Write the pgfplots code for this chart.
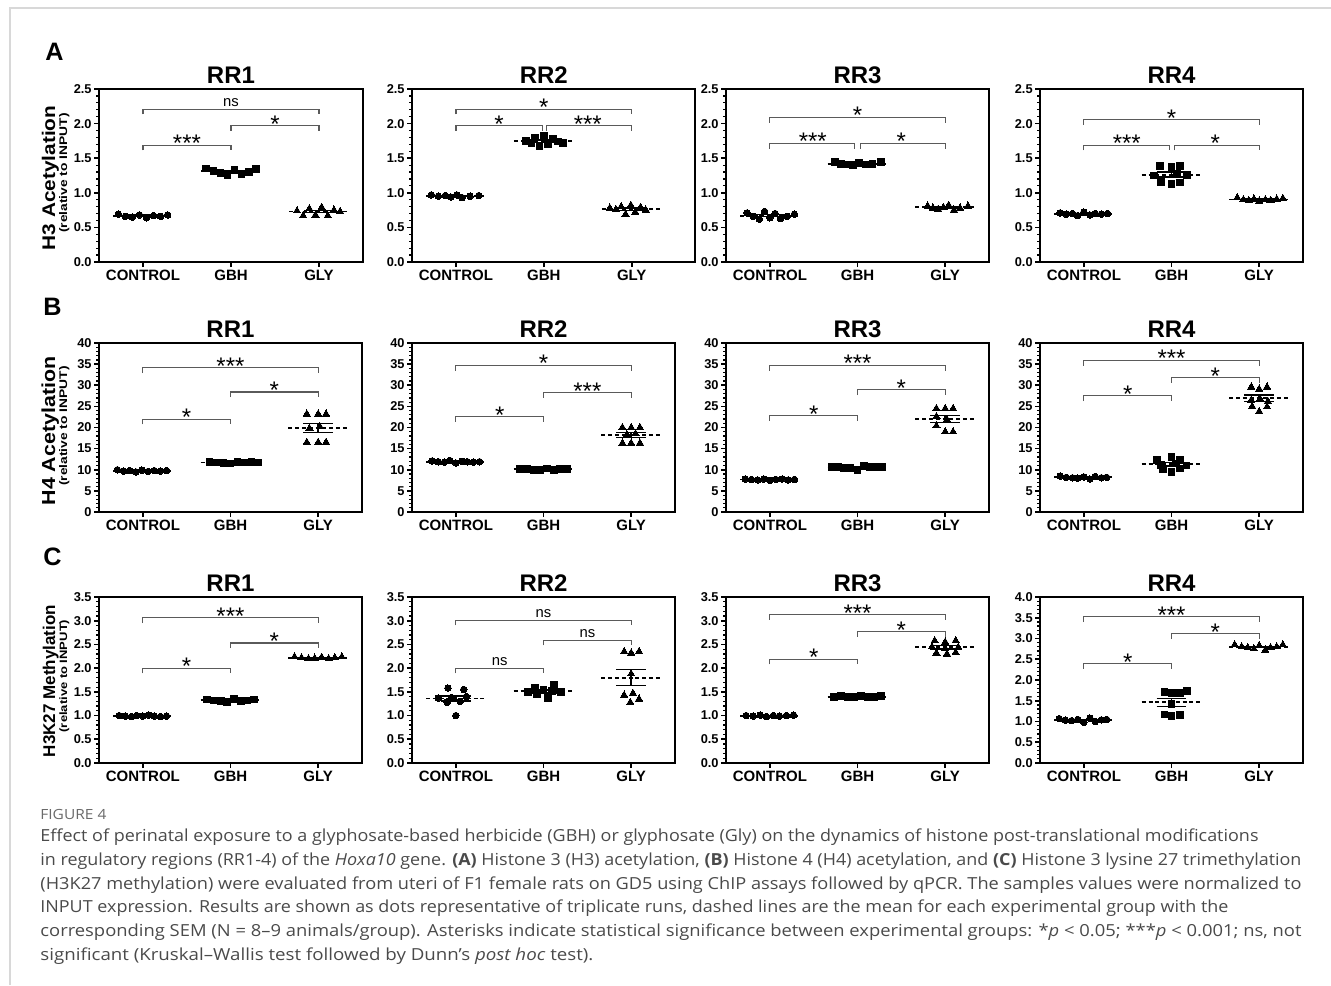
\documentclass[border=0pt]{standalone}
\usepackage{fontspec}
\setmainfont{Liberation Sans}
\newfontfamily\capfont{Open Sans}
\usepackage{graphicx}
\usepackage{pgfplots}
\pgfplotsset{compat=1.18}
\definecolor{brkc}{HTML}{5A5A5A}
\definecolor{capc}{HTML}{4A4A4A}
\definecolor{figc}{HTML}{6A6A6A}
\definecolor{bord}{HTML}{D8D8D8}

\pgfplotsset{
 panel/.style={scale only axis, clip=false, width=131.5pt,
   axis line style={line width=1pt},
   xmin=-0.5, xmax=2.5, ymin=0,
   xtick={0,1,2}, xticklabels={CONTROL,GBH,GLY},
   tick pos=left, tick align=outside,
   major tick length=2.5pt, minor tick length=1.4pt, minor y tick num=4,
   every tick/.style={black, line width=0.8pt},
   every minor tick/.append style={line width=0.6pt},
   xticklabel style={font=\bfseries\fontsize{7.5}{8}\selectfont, inner sep=1.5pt},
   yticklabel style={font=\bfseries\fontsize{6.4}{7}\selectfont, inner sep=1pt},
   /pgf/number format/assume math mode=true,
 },
 dec/.style={yticklabel style={/pgf/number format/fixed, /pgf/number format/fixed zerofill, /pgf/number format/precision=1}},
 rowA/.style={panel, dec, height=86.5pt, ymax=2.5, ytick={0,0.5,1,1.5,2,2.5}},
 rowB/.style={panel, height=84.5pt, ymax=40, ytick={0,5,10,15,20,25,30,35,40}},
 rowC/.style={panel, dec, height=83pt, ymax=3.5, ytick={0,0.5,1,1.5,2,2.5,3,3.5}},
 ctl/.style={only marks, mark=*, mark size=1.65pt, mark options={fill=black, draw=black, line width=0pt}},
 gbh/.style={only marks, mark=square*, mark size=1.7pt, mark options={fill=black, draw=black, line width=0pt}},
 gly/.style={only marks, mark=triangle*, mark size=2.1pt, mark options={fill=black, draw=black, line width=0pt}},
}

% mean (dashed) and SEM bars: centre, mean, sem
\newcommand\ms[3]{%
 \pgfmathsetmacro\xl{#1-0.34}\pgfmathsetmacro\xr{#1+0.34}%
 \pgfmathsetmacro\el{#1-0.17}\pgfmathsetmacro\er{#1+0.17}%
 \pgfmathsetmacro\yu{#2+#3}\pgfmathsetmacro\yd{#2-#3}%
 \edef\tmp{%
 \noexpand\addplot[black, line width=0.95pt, dash pattern=on 2pt off 1.4pt] coordinates {(\xl,#2) (\xr,#2)};
 \noexpand\addplot[black, line width=0.7pt] coordinates {(\el,\yu) (\er,\yu)};
 \noexpand\addplot[black, line width=0.7pt] coordinates {(\el,\yd) (\er,\yd)};
 \noexpand\addplot[black, line width=0.7pt] coordinates {(#1,\yd) (#1,\yu)};
 }\tmp}
% brackets: x1, x2, y, xmid, label
\newcommand\bs[5]{%
 \draw[brkc, line width=0.55pt] ([yshift=-2.6pt]axis cs:#1,#3) -- (axis cs:#1,#3) -- (axis cs:#2,#3) -- ([yshift=-2.6pt]axis cs:#2,#3);
 \node[anchor=base, inner sep=0pt, yshift=-3.3pt, font=\fontsize{12}{12}\selectfont] at (axis cs:#4,#3) {#5};}
\newcommand\bn[5]{%
 \draw[brkc, line width=0.55pt] ([yshift=-2.6pt]axis cs:#1,#3) -- (axis cs:#1,#3) -- (axis cs:#2,#3) -- ([yshift=-2.6pt]axis cs:#2,#3);
 \node[anchor=base, inner sep=0pt, yshift=1.5pt, font=\fontsize{7.4}{8}\selectfont] at (axis cs:#4,#3) {#5};}
\newcommand\ttl[2]{\node[anchor=base, inner sep=0pt, yshift=3pt, font=\bfseries\fontsize{12}{12}\selectfont] at (axis cs:1,#1) {#2};}

\begin{document}
\begin{tikzpicture}
\path[use as bounding box] (0,0) rectangle (665.5pt,-492.5pt);
\draw[bord, line width=0.7pt] (5pt,-492.5pt) -- (5pt,-4pt) -- (665.5pt,-4pt);

% panel letters and y labels
\node[anchor=base west, inner sep=0pt, font=\bfseries\fontsize{12.6}{13}\selectfont] at (22.5pt,-30pt) {A};
\node[anchor=base west, inner sep=0pt, font=\bfseries\fontsize{12.6}{13}\selectfont] at (21.5pt,-157.5pt) {B};
\node[anchor=base west, inner sep=0pt, font=\bfseries\fontsize{12.6}{13}\selectfont] at (21.5pt,-282.5pt) {C};
\node[rotate=90, anchor=base, inner sep=0pt] at (27.6pt,-89pt) {\scalebox{1}[0.88]{\bfseries\fontsize{10.4}{11}\selectfont H3 Acetylation}};
\node[rotate=90, anchor=base, inner sep=0pt] at (33.6pt,-86.5pt) {\scalebox{1}[0.8]{\bfseries\fontsize{6.9}{7}\selectfont (relative to INPUT)}};
\node[rotate=90, anchor=base, inner sep=0pt] at (27.6pt,-215.5pt) {\scalebox{1}[0.88]{\bfseries\fontsize{10.7}{11}\selectfont H4 Acetylation}};
\node[rotate=90, anchor=base, inner sep=0pt] at (33.6pt,-213pt) {\scalebox{1}[0.8]{\bfseries\fontsize{6.9}{7}\selectfont (relative to INPUT)}};
\node[rotate=90, anchor=base, inner sep=0pt] at (27.6pt,-340.5pt) {\scalebox{1}[1]{\bfseries\fontsize{8.5}{9}\selectfont H3K27 Methylation}};
\node[rotate=90, anchor=base, inner sep=0pt] at (33.6pt,-338pt) {\scalebox{1}[0.82]{\bfseries\fontsize{6.5}{7}\selectfont (relative to INPUT)}};

% ---------------- Row A ----------------
\begin{axis}[rowA, at={(49.5pt,-44.5pt)}, anchor=north west, width=132pt]
\addplot[ctl] coordinates {(-0.28,0.69)(-0.20,0.66)(-0.12,0.65)(-0.04,0.68)(0.04,0.64)(0.12,0.67)(0.20,0.66)(0.28,0.68)};
\addplot[gbh] coordinates {(0.72,1.35)(0.80,1.31)(0.88,1.29)(0.96,1.26)(1.04,1.33)(1.12,1.27)(1.20,1.30)(1.28,1.34)};
\addplot[gly] coordinates {(1.75,0.74)(1.82,0.67)(1.89,0.77)(1.96,0.68)(2.03,0.79)(2.10,0.67)(2.17,0.75)(2.24,0.73)};
\ms{0}{0.67}{0.01}\ms{1}{1.31}{0.012}\ms{2}{0.73}{0.015}
\bn{0}{2}{2.21}{1}{ns}
\bs{1}{2}{1.97}{1.5}{*}
\bs{0}{1}{1.69}{0.5}{***}
\ttl{2.5}{RR1}
\end{axis}

\begin{axis}[rowA, at={(206pt,-44.5pt)}, anchor=north west, width=141.5pt, xmax=2.72]
\addplot[ctl] coordinates {(-0.28,0.97)(-0.2,0.95)(-0.12,0.96)(-0.06,0.94)(0.01,0.97)(0.07,0.93)(0.16,0.95)(0.26,0.96)};
\addplot[gbh] coordinates {(0.8,1.75)(0.86,1.72)(0.9,1.80)(0.95,1.68)(1.0,1.82)(1.05,1.70)(1.1,1.78)(1.16,1.74)(1.22,1.72)};
\addplot[gly] coordinates {(1.75,0.78)(1.82,0.76)(1.88,0.80)(1.93,0.69)(1.99,0.82)(2.04,0.72)(2.1,0.79)(2.16,0.75)};
\ms{0}{0.955}{0.005}\ms{1}{1.746}{0.016}\ms{2}{0.764}{0.016}
\bs{0}{2}{2.21}{1}{*}
\bs{0}{0.98}{1.97}{0.49}{*}
\bs{1.03}{2}{1.97}{1.5}{***}
\ttl{2.5}{RR2}
\end{axis}

\begin{axis}[rowA, at={(363pt,-44.5pt)}, anchor=north west]
\addplot[ctl] coordinates {(-0.26,0.71)(-0.19,0.66)(-0.12,0.62)(-0.06,0.73)(0.0,0.64)(0.06,0.70)(0.12,0.63)(0.2,0.66)(0.28,0.69)};
\addplot[gbh] coordinates {(0.74,1.44)(0.81,1.42)(0.88,1.41)(0.95,1.40)(1.02,1.43)(1.09,1.41)(1.17,1.42)(1.27,1.44)};
\addplot[gly] coordinates {(1.8,0.81)(1.86,0.78)(1.92,0.76)(1.98,0.79)(2.04,0.82)(2.1,0.75)(2.17,0.78)(2.26,0.81)};
\ms{0}{0.671}{0.013}\ms{1}{1.421}{0.005}\ms{2}{0.789}{0.009}
\bs{0}{2}{2.09}{1}{*}
\bs{0}{0.97}{1.715}{0.49}{***}
\bs{1.03}{2}{1.715}{1.5}{*}
\ttl{2.5}{RR3}
\end{axis}

\begin{axis}[rowA, at={(520pt,-44.5pt)}, anchor=north west]
\addplot[ctl] coordinates {(-0.27,0.71)(-0.2,0.69)(-0.13,0.70)(-0.07,0.67)(0.0,0.72)(0.07,0.68)(0.13,0.70)(0.2,0.69)(0.27,0.70)};
\addplot[gbh] coordinates {(0.87,1.39)(1.0,1.37)(1.1,1.39)(0.8,1.25)(1.06,1.27)(1.18,1.26)(0.88,1.16)(1.0,1.13)(1.1,1.15)};
\addplot[gly] coordinates {(1.75,0.93)(1.82,0.90)(1.88,0.89)(1.94,0.91)(2.0,0.88)(2.07,0.90)(2.13,0.89)(2.2,0.91)(2.27,0.92)};
\ms{0}{0.696}{0.005}\ms{1}{1.263}{0.035}\ms{2}{0.903}{0.005}
\bs{0}{2}{2.06}{1}{*}
\bs{0}{0.98}{1.69}{0.49}{***}
\bs{1.03}{2}{1.69}{1.5}{*}
\ttl{2.5}{RR4}
\end{axis}

% ---------------- Row B ----------------
\begin{axis}[rowB, at={(49.5pt,-171.5pt)}, anchor=north west]
\addplot[ctl] coordinates {(-0.29,10.0)(-0.22,9.7)(-0.15,9.8)(-0.08,9.5)(-0.01,9.9)(0.06,9.6)(0.13,9.8)(0.2,9.7)(0.27,9.8)};
\addplot[gbh] coordinates {(0.76,11.8)(0.84,11.7)(0.92,11.6)(1.0,11.5)(1.08,11.9)(1.16,11.7)(1.24,11.8)(1.32,11.7)};
\addplot[gly] coordinates {(1.87,23.2)(2.0,23.2)(2.09,23.2)(1.9,19.8)(2.02,20.2)(1.87,16.5)(2.0,16.5)(2.09,16.5)};
\ms{0}{9.76}{0.05}\ms{1}{11.71}{0.04}\ms{2}{19.9}{1.1}
\bs{0}{2}{34.1}{1}{***}
\bs{1}{2}{28.4}{1.5}{*}
\bs{0}{1}{22.0}{0.5}{*}
\ttl{40}{RR1}
\end{axis}

\begin{axis}[rowB, at={(206pt,-171.5pt)}, anchor=north west]
\addplot[ctl] coordinates {(-0.27,12.1)(-0.2,11.9)(-0.13,11.8)(-0.07,12.2)(0.0,11.6)(0.07,12.0)(0.13,11.9)(0.2,11.8)(0.27,11.9)};
\addplot[gbh] coordinates {(0.73,10.2)(0.81,10.1)(0.89,9.9)(0.96,10.0)(1.04,10.3)(1.12,9.9)(1.19,10.1)(1.27,10.2)};
\addplot[gly] coordinates {(1.9,20.0)(2.0,20.0)(2.1,20.0)(1.95,18.3)(2.05,18.5)(1.9,16.3)(2.0,16.3)(2.1,16.3)};
\ms{0}{11.91}{0.06}\ms{1}{10.09}{0.05}\ms{2}{18.2}{0.6}
\bs{0}{2}{34.7}{1}{*}
\bs{1}{2}{28.3}{1.5}{***}
\bs{0}{1}{22.6}{0.5}{*}
\ttl{40}{RR2}
\end{axis}

\begin{axis}[rowB, at={(363pt,-171.5pt)}, anchor=north west]
\addplot[ctl] coordinates {(-0.28,7.8)(-0.21,7.7)(-0.14,7.6)(-0.07,7.8)(0.0,7.5)(0.07,7.7)(0.14,7.8)(0.21,7.6)(0.28,7.7)};
\addplot[gbh] coordinates {(0.71,10.7)(0.78,10.6)(0.85,10.5)(0.92,10.4)(1.0,9.8)(1.07,10.9)(1.14,10.6)(1.21,10.7)(1.28,10.6)};
\addplot[gly] coordinates {(1.9,24.5)(2.0,24.5)(2.09,24.5)(1.9,22.6)(2.02,21.9)(1.9,20.4)(2.0,19.0)(2.09,19.0)};
\ms{0}{7.69}{0.03}\ms{1}{10.53}{0.1}\ms{2}{22.05}{0.84}
\bs{0}{2}{34.7}{1}{***}
\bs{1}{2}{28.9}{1.5}{*}
\bs{0}{1}{22.8}{0.5}{*}
\ttl{40}{RR3}
\end{axis}

\begin{axis}[rowB, at={(520pt,-171.5pt)}, anchor=north west]
\addplot[ctl] coordinates {(-0.27,8.5)(-0.2,8.2)(-0.13,8.1)(-0.07,8.0)(0.0,8.3)(0.07,7.8)(0.13,8.4)(0.2,8.1)(0.26,8.2)};
\addplot[gbh] coordinates {(0.83,12.4)(1.0,13.1)(1.1,12.3)(0.88,11.2)(1.05,11.5)(1.17,11.0)(0.9,10.2)(1.1,10.3)(1.0,9.5)};
\addplot[gly] coordinates {(1.91,29.6)(2.0,29.1)(2.09,29.6)(1.91,26.5)(2.01,26.8)(2.1,26.2)(1.92,25.0)(2.0,23.8)(2.09,24.9)};
\ms{0}{8.18}{0.07}\ms{1}{11.28}{0.4}\ms{2}{26.9}{0.75}
\bs{0}{2}{35.9}{1}{***}
\bs{1}{2}{31.8}{1.5}{*}
\bs{0}{1}{27.5}{0.5}{*}
\ttl{40}{RR4}
\end{axis}

% ---------------- Row C ----------------
\begin{axis}[rowC, at={(49.5pt,-298.5pt)}, anchor=north west]
\addplot[ctl] coordinates {(-0.27,1.00)(-0.2,0.99)(-0.13,0.98)(-0.07,1.00)(0.0,0.99)(0.07,1.01)(0.13,0.99)(0.2,0.98)(0.27,0.99)};
\addplot[gbh] coordinates {(0.73,1.34)(0.81,1.32)(0.89,1.31)(0.96,1.29)(1.04,1.35)(1.12,1.30)(1.19,1.32)(1.27,1.34)};
\addplot[gly] coordinates {(1.73,2.24)(1.81,2.22)(1.89,2.20)(1.96,2.21)(2.04,2.23)(2.12,2.20)(2.19,2.22)(2.27,2.24)};
\ms{0}{0.99}{0.003}\ms{1}{1.32}{0.007}\ms{2}{2.22}{0.005}
\bs{0}{2}{3.06}{1}{***}
\bs{1}{2}{2.53}{1.5}{*}
\bs{0}{1}{2.0}{0.5}{*}
\ttl{3.5}{RR1}
\end{axis}

\begin{axis}[rowC, at={(206pt,-298.5pt)}, anchor=north west]
\addplot[ctl] coordinates {(-0.09,1.58)(0.09,1.55)(-0.2,1.37)(-0.05,1.38)(0.12,1.40)(-0.1,1.28)(0.05,1.30)(0,1.0)};
\addplot[gbh] coordinates {(0.9,1.58)(1.12,1.65)(0.82,1.50)(1.0,1.55)(1.1,1.52)(1.2,1.50)(0.93,1.45)(1.05,1.37)};
\addplot[gly] coordinates {(1.92,2.35)(2.0,2.32)(2.09,2.35)(2.0,1.88)(1.92,1.43)(2.02,1.47)(1.99,1.28)(2.09,1.35)};
\ms{0}{1.36}{0.05}\ms{1}{1.51}{0.03}\ms{2}{1.80}{0.17}
\bn{0}{2}{3.01}{1}{ns}
\bn{1}{2}{2.59}{1.5}{ns}
\bn{0}{1}{2.0}{0.5}{ns}
\ttl{3.5}{RR2}
\end{axis}

\begin{axis}[rowC, at={(363pt,-298.5pt)}, anchor=north west]
\addplot[ctl] coordinates {(-0.27,1.00)(-0.19,0.99)(-0.11,1.01)(-0.04,0.98)(0.04,1.00)(0.11,0.99)(0.19,1.00)(0.27,1.01)};
\addplot[gbh] coordinates {(0.73,1.40)(0.81,1.41)(0.89,1.39)(0.96,1.40)(1.04,1.42)(1.12,1.39)(1.19,1.40)(1.27,1.41)};
\addplot[gly] coordinates {(1.88,2.58)(2.0,2.55)(2.12,2.58)(1.85,2.45)(2.0,2.42)(2.15,2.44)(1.9,2.32)(2.02,2.30)(2.12,2.33)};
\ms{0}{1.0}{0.004}\ms{1}{1.40}{0.004}\ms{2}{2.44}{0.035}
\bs{0}{2}{3.13}{1}{***}
\bs{1}{2}{2.77}{1.5}{*}
\bs{0}{1}{2.19}{0.5}{*}
\ttl{3.5}{RR3}
\end{axis}

\begin{axis}[rowC, at={(520pt,-298.5pt)}, anchor=north west, ymax=4, ytick={0,0.5,1,1.5,2,2.5,3,3.5,4}]
\addplot[ctl] coordinates {(-0.28,1.07)(-0.21,1.03)(-0.14,1.02)(-0.07,1.05)(0.0,0.98)(0.07,1.08)(0.13,1.00)(0.2,1.04)(0.26,1.05)};
\addplot[gbh] coordinates {(0.92,1.72)(1.01,1.68)(1.1,1.68)(1.18,1.73)(1.0,1.42)(0.92,1.17)(1.0,1.13)(1.1,1.16)};
\addplot[gly] coordinates {(1.72,2.85)(1.8,2.80)(1.87,2.78)(1.94,2.75)(2.0,2.83)(2.07,2.72)(2.13,2.78)(2.2,2.80)(2.27,2.85)};
\ms{0}{1.036}{0.01}\ms{1}{1.46}{0.1}\ms{2}{2.796}{0.015}
\bs{0}{2}{3.52}{1}{***}
\bs{1}{2}{3.12}{1.5}{*}
\bs{0}{1}{2.40}{0.5}{*}
\ttl{4}{RR4}
\end{axis}

% ---------------- Caption ----------------
\node[anchor=base west, inner sep=0pt, text=figc] at (20pt,-409.5pt) {\resizebox{33pt}{\height}{\capfont\fontsize{7}{8}\selectfont FIGURE 4}};
\begin{scope}[every node/.style={anchor=base west, inner sep=0pt, text=capc}]
\node at (20pt,-420.5pt) {\resizebox{609pt}{\height}{\capfont\fontsize{8.3}{10}\selectfont Effect of perinatal exposure to a glyphosate-based herbicide (GBH) or glyphosate (Gly) on the dynamics of histone post-translational modifications}};
\node at (20pt,-432.5pt) {\resizebox{630.5pt}{\height}{\capfont\fontsize{8.3}{10}\selectfont in regulatory regions (RR1-4) of the \textit{Hoxa10} gene. \textbf{(A)} Histone 3 (H3) acetylation, \textbf{(B)} Histone 4 (H4) acetylation, and \textbf{(C)} Histone 3 lysine 27 trimethylation}};
\node at (20pt,-444.5pt) {\resizebox{630.5pt}{\height}{\capfont\fontsize{8.3}{10}\selectfont (H3K27 methylation) were evaluated from uteri of F1 female rats on GD5 using ChIP assays followed by qPCR. The samples values were normalized to}};
\node at (20pt,-456pt) {\resizebox{594pt}{\height}{\capfont\fontsize{8.3}{10}\selectfont INPUT expression. Results are shown as dots representative of triplicate runs, dashed lines are the mean for each experimental group with the}};
\node at (20pt,-468pt) {\resizebox{630.5pt}{\height}{\capfont\fontsize{8.3}{10}\selectfont corresponding SEM (N = 8–9 animals/group). Asterisks indicate statistical significance between experimental groups: *\textit{p} < 0.05; ***\textit{p} < 0.001; ns, not}};
\node at (20pt,-480pt) {\resizebox{276.5pt}{\height}{\capfont\fontsize{8.3}{10}\selectfont significant (Kruskal–Wallis test followed by Dunn’s \textit{post hoc} test).}};
\end{scope}
\end{tikzpicture}
\end{document}
